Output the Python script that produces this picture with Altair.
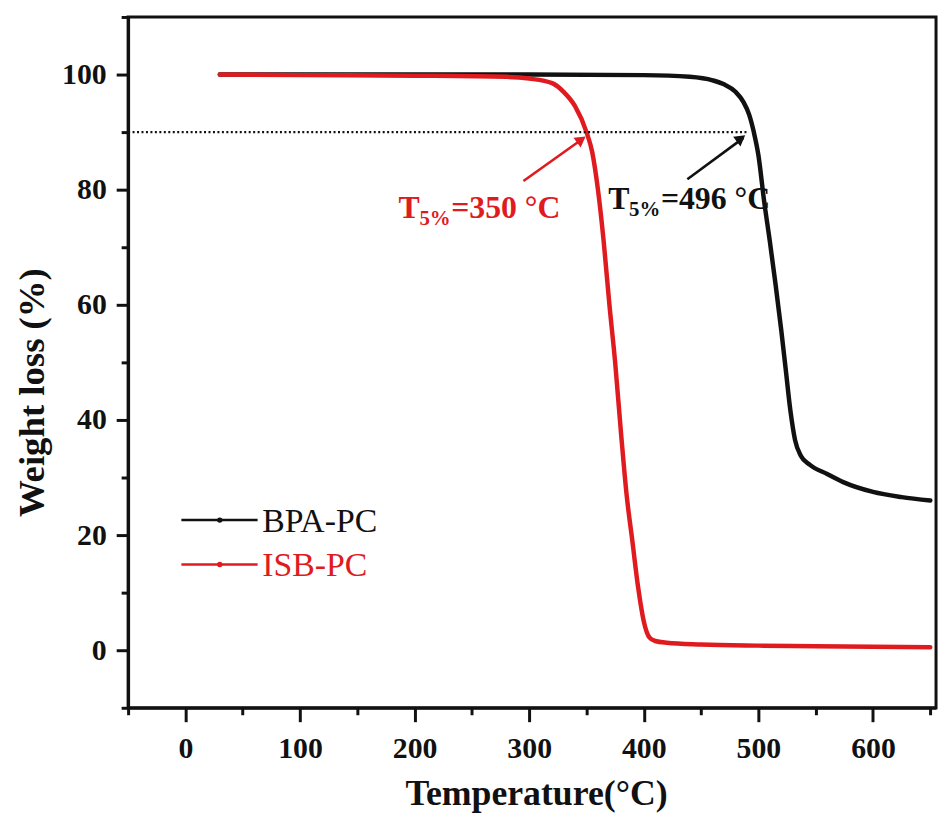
import altair as alt
import pandas as pd

# ---- data ----
series_names = ["BPA-PC", "ISB-PC"]
series_colors = ["#111111", "#e01b1f"]

temp_bpa = [30, 100, 200, 300, 400, 440, 460, 470, 480, 487, 492, 496, 500, 505,
            510, 515, 520, 524, 528, 532, 537, 545, 560, 574, 600, 625, 650]
wt_bpa = [100.0, 100.0, 100.0, 100.0, 99.9, 99.6, 99.0, 98.3, 97.0, 95.2, 93.0, 90.0,
          86.0, 78.0, 71.0, 63.5, 55.5, 48.5, 41.5, 36.5, 33.8, 32.2, 30.6, 29.2,
          27.5, 26.6, 26.0]

temp_isb = [30, 100, 200, 280, 300, 320, 330, 340, 350, 355, 360, 365, 370, 375,
            380, 385, 390, 395, 400, 405, 410, 420, 450, 500, 550, 600, 650]
wt_isb = [100.0, 99.9, 99.8, 99.6, 99.3, 98.5, 97.0, 94.5, 90.0, 86.5, 80.0, 71.0,
          60.0, 50.0, 38.0, 27.0, 19.0, 11.0, 5.0, 2.2, 1.6, 1.3, 1.0, 0.8, 0.7,
          0.6, 0.5]

# dotted 5 % weight-loss reference line
ref_level = 90
ref_x = [-50, 490]

# annotations
ann_series = ["ISB-PC", "BPA-PC"]
ann_x = [186, 369]
ann_y = [75.1, 76.7]
ann_sub = ["5%", "5%"]
ann_value = ["=350 \u00b0C", "=496 \u00b0C"]

arrow_x1 = [295, 438]
arrow_y1 = [81.5, 81.8]
arrow_x2 = [347, 487]
arrow_y2 = [88.9, 89.0]
arrow_head_x = [345.5, 484.8]
arrow_head_y = [88.7, 88.9]
arrow_angle = [54, 53]

# legend
legend_x1 = [-3.5, -3.5]
legend_x2 = [63, 63]
legend_mid = [30, 30]
legend_y = [22.6, 14.9]
legend_text_x = [67, 67]

# ---- tables ----
curves = pd.concat([
    pd.DataFrame({"T": temp_bpa, "W": wt_bpa, "series": series_names[0]}),
    pd.DataFrame({"T": temp_isb, "W": wt_isb, "series": series_names[1]}),
])
ref_df = pd.DataFrame({"T": [ref_x[0]], "x2": [ref_x[1]], "W": [ref_level]})
ann_df = pd.DataFrame({"series": ann_series, "T": ann_x, "W": ann_y,
                       "tt": ["T", "T"], "sub": ann_sub, "val": ann_value})
arrow_df = pd.DataFrame({"series": ann_series, "T": arrow_x1, "W": arrow_y1,
                         "x2": arrow_x2, "y2": arrow_y2, "hx": arrow_head_x,
                         "hy": arrow_head_y, "ang": arrow_angle})
leg_df = pd.DataFrame({"series": series_names, "T": legend_x1, "x2": legend_x2,
                       "xm": legend_mid, "W": legend_y, "tx": legend_text_x})

FONT = "Liberation Serif"
xs = alt.Scale(domain=[-50, 655], nice=False, zero=False)
ys = alt.Scale(domain=[-10, 110], nice=False, zero=False)
cs = alt.Scale(domain=series_names, range=series_colors)

x_axis = alt.Axis(
    title="Temperature(\u00b0C)", values=list(range(-50, 651, 50)),
    labelExpr="datum.value % 100 === 0 ? datum.label : ''",
    tickSize={"condition": {"test": "datum.value % 100 === 0", "value": 14}, "value": 7},
    labelPadding=12, labelOverlap=False, labelFlush=False, grid=False,
    titleBaseline="alphabetic", titleY=97, titleX=411,
)
y_axis = alt.Axis(
    title="Weight loss (%)", values=list(range(-10, 111, 10)),
    labelExpr="datum.value % 20 === 0 ? datum.label : ''",
    tickSize={"condition": {"test": "datum.value % 20 === 0", "value": 12}, "value": 7},
    labelPadding=10, labelOverlap=False, labelFlush=False, grid=False,
    titleX=-77, titleY=378, titleFontSize=37,
)


def X(field):
    return alt.X(f"{field}:Q", scale=xs, axis=x_axis, title="Temperature(\u00b0C)")


def Y(field):
    return alt.Y(f"{field}:Q", scale=ys, axis=y_axis, title="Weight loss (%)")


COLOR = alt.Color("series:N", scale=cs, legend=None)

lines = alt.Chart(curves).mark_line(strokeWidth=4.5, strokeCap="round",
                                    interpolate="monotone").encode(
    x=X("T"), y=Y("W"), color=COLOR, detail="series:N",
)

ref = alt.Chart(ref_df).mark_rule(color="#111111", strokeWidth=2.2,
                                  strokeDash=[2, 2.5]).encode(
    x=X("T"), x2="x2:Q", y=Y("W"),
)

arrows = alt.Chart(arrow_df).mark_rule(strokeWidth=2.6).encode(
    x=X("T"), x2="x2:Q", y=Y("W"), y2="y2:Q", color=COLOR,
)
heads = alt.Chart(arrow_df).mark_point(shape="triangle-up", filled=True, size=150,
                                       opacity=1).encode(
    x=X("hx"), y=Y("hy"), angle=alt.Angle("ang:Q", scale=None), color=COLOR,
)


def ann_text(field, size, dx, dy):
    return alt.Chart(ann_df).mark_text(font=FONT, fontWeight="bold", fontSize=size,
                                        align="left", baseline="alphabetic",
                                        dx=dx, dy=dy).encode(
        x=X("T"), y=Y("W"), text=f"{field}:N", color=COLOR,
    )


t_main = ann_text("tt", 32, 0, 0)
t_sub = ann_text("sub", 21, 21, 7)
t_val = ann_text("val", 32, 53, 0)

leg_lines = alt.Chart(leg_df).mark_rule(strokeWidth=2.5).encode(
    x=X("T"), x2="x2:Q", y=Y("W"), color=COLOR,
)
leg_dots = alt.Chart(leg_df).mark_point(shape="circle", filled=True, size=30,
                                        opacity=1).encode(
    x=X("xm"), y=Y("W"), color=COLOR,
)
leg_text = alt.Chart(leg_df).mark_text(font=FONT, fontSize=34, align="left",
                                       baseline="middle", dy=2).encode(
    x=X("tx"), y=Y("W"), text="series:N", color=COLOR,
)

chart = alt.layer(
    lines, ref, arrows, heads, t_main, t_sub, t_val, leg_lines, leg_dots, leg_text
).properties(
    width=814, height=696,
    autosize=alt.AutoSizeParams(type="none"),
    padding={"left": 121, "top": 6, "right": 4, "bottom": 108},
).configure_view(
    stroke="#111111", strokeWidth=3,
).configure_axis(
    domainColor="#111111", domainWidth=3, tickColor="#111111", tickWidth=3,
    labelFont=FONT, labelFontWeight="bold", labelFontSize=30, labelColor="#111111",
    titleFont=FONT, titleFontWeight="bold", titleFontSize=36, titleColor="#111111",
)

chart.save("out.html", embed_options={"renderer": "svg", "actions": False})
